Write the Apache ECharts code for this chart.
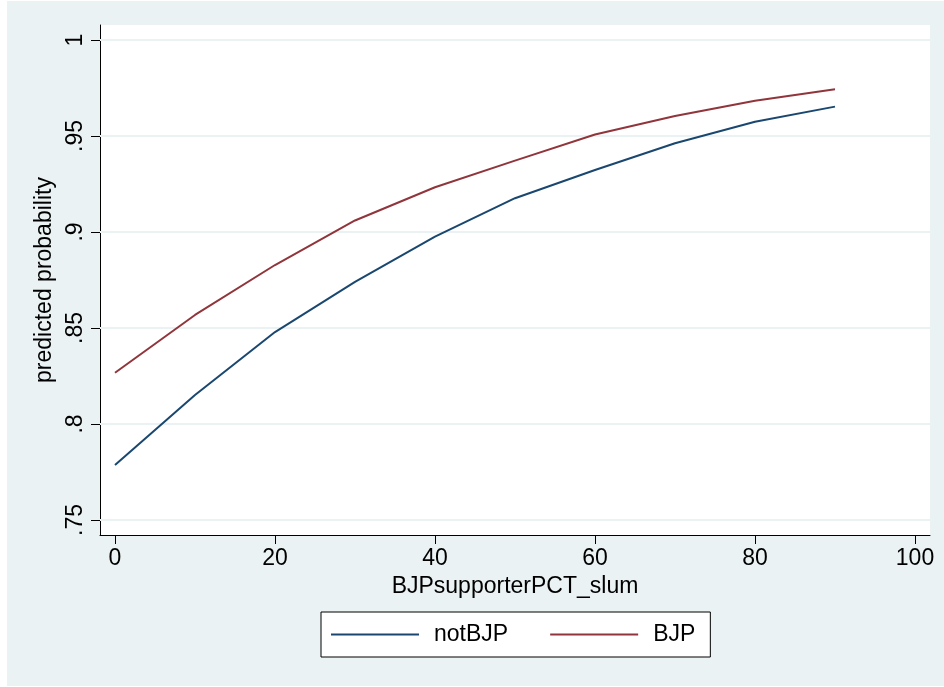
<!DOCTYPE html>
<html>
<head>
<meta charset="utf-8">
<script src="https://cdn.jsdelivr.net/npm/echarts@6/dist/echarts.min.js"></script>
<style>
html,body{margin:0;padding:0;background:#ffffff;}
#chart{width:944px;height:687px;}
</style>
</head>
<body>
<div id="chart"></div>
<script>
var xValues = [0, 10, 20, 30, 40, 50, 60, 70, 80, 90];
var notBJP = [0.7786, 0.8151, 0.8479, 0.8740, 0.8976, 0.9176, 0.9323, 0.9462, 0.9574, 0.9653];
var BJP = [0.8267, 0.8568, 0.8828, 0.9060, 0.9233, 0.9372, 0.9508, 0.9604, 0.9684, 0.9743];
var xTicks = [0, 20, 40, 60, 80, 100];
var yTicks = [0.75, 0.8, 0.85, 0.9, 0.95, 1];
var yTickLabels = ['.75', '.8', '.85', '.9', '.95', '1'];

var FONT = '"Liberation Sans", Arial, Helvetica, sans-serif';
var BG = '#EAF2F3';

function pairs(ys) { return xValues.map(function (x, i) { return [x, ys[i]]; }); }

var chart = echarts.init(document.getElementById('chart'), null, { renderer: 'canvas' });
chart.setOption({
  animation: false,
  backgroundColor: '#ffffff',
  graphic: [{
    type: 'rect', z: -10, silent: true,
    shape: { x: 7, y: 1, width: 937, height: 685 },
    style: { fill: BG }
  }],
  grid: {
    left: 100, top: 25, right: 14, bottom: 152,
    show: true, backgroundColor: '#ffffff', borderWidth: 0
  },
  legend: {
    left: 321, top: 612,
    padding: [11, 15, 11, 10],
    borderColor: '#000', borderWidth: 1, backgroundColor: '#ffffff',
    icon: 'rect', itemWidth: 88, itemHeight: 2, itemGap: 42,
    textStyle: { fontFamily: FONT, fontSize: 23, color: '#000', padding: [0, 0, 0, 10] },
    data: ['notBJP', 'BJP']
  },
  xAxis: {
    type: 'value', min: -1.875, max: 101.875,
    name: 'BJPsupporterPCT_slum', nameLocation: 'middle', nameGap: 39,
    nameTextStyle: { fontFamily: FONT, fontSize: 23, color: '#000' },
    axisLine: { show: true, onZero: false, lineStyle: { color: '#000', width: 1 } },
    axisTick: { show: true, length: 9, customValues: xTicks, lineStyle: { color: '#000' } },
    axisLabel: { customValues: xTicks, fontFamily: FONT, fontSize: 23, color: '#000', margin: 12 },
    splitLine: { show: false }
  },
  yAxis: {
    type: 'value', min: 0.7421875, max: 1.0078125,
    name: 'predicted probability', nameLocation: 'middle', nameGap: 40, nameRotate: 90,
    nameTextStyle: { fontFamily: FONT, fontSize: 23, color: '#000' },
    axisLine: { show: true, onZero: false, lineStyle: { color: '#000', width: 1 } },
    axisTick: { show: true, length: 9, customValues: yTicks, lineStyle: { color: '#000' } },
    axisLabel: {
      customValues: yTicks, rotate: 90, fontFamily: FONT, fontSize: 23, color: '#000', margin: 13,
      formatter: function (v) {
        for (var i = 0; i < yTicks.length; i++) { if (Math.abs(yTicks[i] - v) < 1e-6) return yTickLabels[i]; }
        return '';
      }
    },
    splitLine: { show: false }
  },
  series: [
    {
      type: 'line', name: '_grid', data: [], z: 1, silent: true,
      markLine: {
        z: 1, silent: true, symbol: ['none', 'none'], label: { show: false },
        lineStyle: { color: BG, width: 2, type: 'solid' },
        data: yTicks.map(function (v) { return { yAxis: v }; })
      }
    },
    {
      type: 'line', name: 'notBJP', data: pairs(notBJP), z: 3,
      symbol: 'none', lineStyle: { color: '#1A476F', width: 2 }, itemStyle: { color: '#1A476F' }
    },
    {
      type: 'line', name: 'BJP', data: pairs(BJP), z: 3,
      symbol: 'none', lineStyle: { color: '#90353B', width: 2 }, itemStyle: { color: '#90353B' }
    }
  ]
});
</script>
</body>
</html>
